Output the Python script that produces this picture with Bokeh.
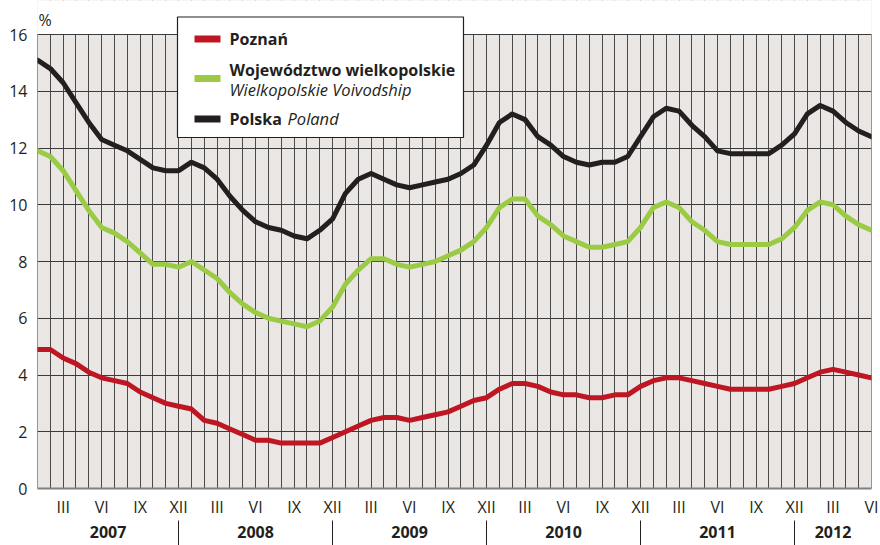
import numpy as np
from bokeh.plotting import figure
from bokeh.models import Range1d, FixedTicker, LinearAxis, Label, BoxAnnotation
from bokeh.embed import file_html
from bokeh.resources import INLINE

# ---- data: monthly unemployment rate, Jan 2007 .. Jun 2012 ----
roman = ["I", "II", "III", "IV", "V", "VI", "VII", "VIII", "IX", "X", "XI", "XII"]
years = [2007, 2008, 2009, 2010, 2011, 2012]
months_per_year = [12, 12, 12, 12, 12, 6]

poznan = [4.9, 4.9, 4.6, 4.4, 4.1, 3.9, 3.8, 3.7, 3.4, 3.2, 3.0, 2.9,
          2.8, 2.4, 2.3, 2.1, 1.9, 1.7, 1.7, 1.6, 1.6, 1.6, 1.6, 1.8,
          2.0, 2.2, 2.4, 2.5, 2.5, 2.4, 2.5, 2.6, 2.7, 2.9, 3.1, 3.2,
          3.5, 3.7, 3.7, 3.6, 3.4, 3.3, 3.3, 3.2, 3.2, 3.3, 3.3, 3.6,
          3.8, 3.9, 3.9, 3.8, 3.7, 3.6, 3.5, 3.5, 3.5, 3.5, 3.6, 3.7,
          3.9, 4.1, 4.2, 4.1, 4.0, 3.9]

wielkopolskie = [11.9, 11.7, 11.2, 10.5, 9.8, 9.2, 9.0, 8.7, 8.3, 7.9, 7.9, 7.8,
                 8.0, 7.7, 7.4, 6.9, 6.5, 6.2, 6.0, 5.9, 5.8, 5.7, 5.9, 6.4,
                 7.2, 7.7, 8.1, 8.1, 7.9, 7.8, 7.9, 8.0, 8.2, 8.4, 8.7, 9.2,
                 9.9, 10.2, 10.2, 9.6, 9.3, 8.9, 8.7, 8.5, 8.5, 8.6, 8.7, 9.2,
                 9.9, 10.1, 9.9, 9.4, 9.1, 8.7, 8.6, 8.6, 8.6, 8.6, 8.8, 9.2,
                 9.8, 10.1, 10.0, 9.6, 9.3, 9.1]

polska = [15.1, 14.8, 14.3, 13.6, 12.9, 12.3, 12.1, 11.9, 11.6, 11.3, 11.2, 11.2,
          11.5, 11.3, 10.9, 10.3, 9.8, 9.4, 9.2, 9.1, 8.9, 8.8, 9.1, 9.5,
          10.4, 10.9, 11.1, 10.9, 10.7, 10.6, 10.7, 10.8, 10.9, 11.1, 11.4, 12.1,
          12.9, 13.2, 13.0, 12.4, 12.1, 11.7, 11.5, 11.4, 11.5, 11.5, 11.7, 12.4,
          13.1, 13.4, 13.3, 12.8, 12.4, 11.9, 11.8, 11.8, 11.8, 11.8, 12.1, 12.5,
          13.2, 13.5, 13.3, 12.9, 12.6, 12.4]

y_ticks = [0, 2, 4, 6, 8, 10, 12, 14, 16]
Y_MAX = 16

# month index and labels
month_num = [m for n in months_per_year for m in range(1, n + 1)]
x = list(range(len(month_num)))
tick_idx = [i for i, m in enumerate(month_num) if m % 3 == 0]
tick_lbl = {i: roman[month_num[i] - 1] for i in tick_idx}
dec_idx = [i for i, m in enumerate(month_num) if m == 12]
starts = [0] + dec_idx
ends = dec_idx + [len(x) - 1]
year_pos = [(a + b) / 2 for a, b in zip(starts, ends)]
year_lbl = {pos: str(y) for pos, y in zip(year_pos, years)}

# ---- layout (canvas pixels) ----
W, H = 880, 545
FL, FR = 37, 871          # frame left / right
FT, FB = 34, 488          # top / bottom of the 0..16 plot area
FW, FH = FR - FL, FB - FT
FONT = "Open Sans"
TXT = "#231F20"
RED, GREEN, BLACK = "#BE1622", "#9BCB45", "#231F20"
BG = "#E9E6E3"

y_top = Y_MAX + FT * Y_MAX / FH   # frame extends to canvas top (legend lives there)

p = figure(width=W, height=H, output_backend="svg", toolbar_location=None,
           x_range=Range1d(0, len(x) - 1), y_range=Range1d(0, y_top),
           min_border_left=FL, min_border_right=W - FR,
           min_border_top=0, min_border_bottom=H - FB)
p.background_fill_color = BG
p.border_fill_color = "white"
p.outline_line_color = None

# y axis
p.yaxis.ticker = FixedTicker(ticks=y_ticks)
p.yaxis.major_tick_out = 0
p.yaxis.major_tick_in = 0
p.yaxis.minor_tick_out = 0
p.yaxis.minor_tick_in = 0
p.yaxis.axis_line_color = None
p.yaxis.major_label_standoff = 10
p.yaxis.major_label_text_font = FONT
p.yaxis.major_label_text_font_size = "16px"
p.yaxis.major_label_text_color = TXT

# x axis (months)
p.xaxis.ticker = FixedTicker(ticks=tick_idx)
p.xaxis.major_label_overrides = tick_lbl
p.xaxis.major_tick_out = 0
p.xaxis.major_tick_in = 0
p.xaxis.minor_tick_out = 0
p.xaxis.minor_tick_in = 0
p.xaxis.axis_line_color = "#808080"
p.xaxis.axis_line_width = 2
p.xaxis.major_label_standoff = 7
p.xaxis.major_label_text_font = FONT
p.xaxis.major_label_text_font_size = "16px"
p.xaxis.major_label_text_color = TXT

# second axis (years + separators)
ax2 = LinearAxis(ticker=FixedTicker(ticks=year_pos, minor_ticks=dec_idx))
ax2.major_label_overrides = year_lbl
ax2.major_tick_out = 0
ax2.major_tick_in = 0
ax2.minor_tick_out = 28
ax2.minor_tick_in = 0
ax2.minor_tick_line_color = TXT
ax2.minor_tick_line_width = 1
ax2.axis_line_color = None
ax2.major_label_standoff = -23
ax2.major_label_text_font = FONT
ax2.major_label_text_font_style = "bold"
ax2.major_label_text_font_size = "16px"
ax2.major_label_text_color = TXT
p.add_layout(ax2, "below")

# grids
p.xgrid.ticker = FixedTicker(ticks=x)
p.xgrid.grid_line_color = "#4a4a4a"
p.xgrid.grid_line_width = 1
p.ygrid.ticker = FixedTicker(ticks=y_ticks)
p.ygrid.grid_line_color = "#3a3a3a"
p.ygrid.grid_line_width = 1

# white area above the 0..16 plot region, then border of the plot region
p.add_layout(BoxAnnotation(left=0, right=len(x) - 1, bottom=Y_MAX, top=y_top,
                           fill_color="white", fill_alpha=1.0, line_color=None,
                           level="underlay"))
p.add_layout(BoxAnnotation(left=0, right=len(x) - 1, bottom=0, top=Y_MAX,
                           fill_alpha=0.0, line_color="#3a3a3a", line_width=1,
                           line_alpha=1.0, level="underlay"))

# series
for vals, col in [(wielkopolskie, GREEN), (polska, BLACK), (poznan, RED)]:
    p.line(x, vals, line_width=5, line_color=col, line_join="round", line_cap="round")

# ---- annotations positioned in canvas pixels ----
def px2x(px):
    return (px - FL) * (len(x) - 1) / FW
def py2y(py):
    return (FB - py) * Y_MAX / FH

p.add_layout(Label(x=px2x(38), y=py2y(19), text="%", text_font=FONT,
                   text_font_size="16px", text_color=TXT,
                   text_align="left", text_baseline="middle"))

p.add_layout(BoxAnnotation(left=px2x(177), right=px2x(463), top=py2y(16.5), bottom=py2y(137),
                           fill_color="white", fill_alpha=1.0,
                           line_color=TXT, line_width=1.2, line_alpha=1.0))

for yc, col in [(38.5, RED), (78, GREEN), (118.5, BLACK)]:
    p.add_layout(BoxAnnotation(left=px2x(194), right=px2x(220), top=py2y(yc - 3.5),
                               bottom=py2y(yc + 3.5), fill_color=col, fill_alpha=1.0,
                               line_color=None))

def lab(px, py, t, style, size="16px"):
    p.add_layout(Label(x=px2x(px), y=py2y(py), text=t, text_font=FONT,
                       text_font_size=size, text_font_style=style, text_color=TXT,
                       text_align="left", text_baseline="middle"))

lab(229, 38, "Poznań", "bold")
lab(229, 69, "Województwo wielkopolskie", "bold")
lab(229, 89, "Wielkopolskie Voivodship", "italic", "16.5px")
lab(229, 118, "Polska", "bold")
lab(287, 118, "Poland", "italic", "16.5px")

open("out.html", "w").write(file_html(p, INLINE))
